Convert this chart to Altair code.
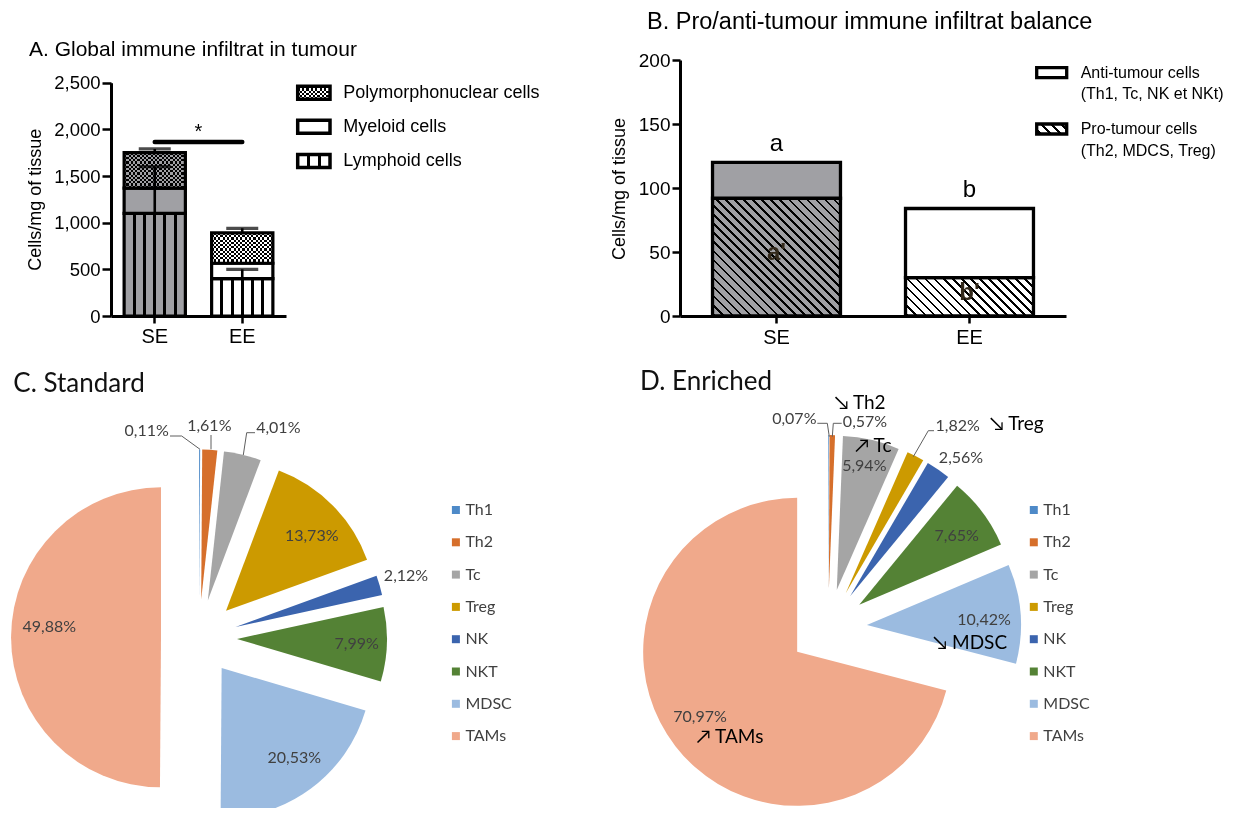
import math
import altair as alt
import pandas as pd

# ------------------------------------------------------------------ data
groups = ["SE", "EE"]

# Panel A - stacked cells/mg of tissue, upper SD of every segment
a_segments = ["Lymphoid cells", "Myeloid cells", "Polymorphonuclear cells"]
a_lymphoid = [1100, 400]
a_myeloid = [270, 165]
a_polymorph = [380, 325]
a_sd_lymphoid = [270, 100]
a_sd_myeloid = [230, 0]
a_sd_polymorph = [40, 50]
a_signif_pair = ["SE", "EE"]
a_signif_level = [1865]
a_signif_mark = ["*"]
a_y_ticks = [0, 500, 1000, 1500, 2000, 2500]
a_legend_items = ["Polymorphonuclear cells", "Myeloid cells", "Lymphoid cells"]

# Panel B - pro / anti tumour cells
b_pro = [92, 30]
b_anti = [28, 54]
b_total_letters = ["a", "b"]
b_pro_letters = ["a'", "b'"]
b_y_ticks = [0, 50, 100, 150, 200]
b_legend_items = ["Anti-tumour cells", "Pro-tumour cells"]
b_legend_details = ["(Th1, Tc, NK et NKt)", "(Th2, MDCS, Treg)"]

# Panels C / D - share of each cell type (%)
cell_types = ["Th1", "Th2", "Tc", "Treg", "NK", "NKT", "MDSC", "TAMs"]
standard_pct = [0.11, 1.61, 4.01, 13.73, 2.12, 7.99, 20.53, 49.88]
enriched_pct = [0.07, 0.57, 5.94, 1.82, 2.56, 7.65, 10.42, 70.97]
enriched_note_cells = ["Th2", "Tc", "Treg", "MDSC", "TAMs"]
enriched_note_arrows = ["\u2198", "\u2197", "\u2198", "\u2198", "\u2197"]

panel_titles = [
    "A. Global immune infiltrat in tumour",
    "B. Pro/anti-tumour immune infiltrat balance",
    "C. Standard",
    "D. Enriched",
]
y_axis_title = "Cells/mg of tissue"

# ------------------------------------------------------------------ style / layout
W, H = 1231, 800
ARIAL = "Liberation Sans"
LATO = "Lato"
GRAY = "#a0a0a4"
CLEAR = "rgba(0,0,0,0)"
PIE_COLORS = ["#4e8ac8", "#d66f2b", "#a5a5a5", "#cc9a00", "#3b64ae", "#548235", "#9bbbe0", "#f0a98b"]
LABEL_GRAY = "#404040"
CHECK = 2.2  # checker cell size, px

A_XR, A_YR = [103, 278], [308, 74.7]
A_PI, A_PO = 0.30, 0.15
B_XR, B_YR = [672, 1058], [308, 52]
B_PI, B_PO = 0.337, 0.1685

PIE_C = dict(cx=191, cy=629.5, r=150, d=38)
PIE_D = dict(cx=820, cy=620, r=154, d=39)

C_LABEL_OFF = {"Th1": (-52.3, -206.5), "Th2": (10.3, -211.8), "Tc": (79.3, -209.2),
               "Treg": (112.7, -101.8), "NK": (207, -61.5), "NKT": (157.7, 6.8),
               "MDSC": (95.3, 120.8), "TAMs": (-149.7, -10.8)}
C_LEADERS = {"Th1": [(-29, -201.5), (-17.3, -201.5), (1, -188.2)],
             "Th2": [(12, -202.5), (12, -188.2)],
             "Tc": [(56, -204.8), (47.7, -204.8), (44.3, -182.5)]}
D_LABEL_OFF = {"Th1": (-33.7, -208.7), "Th2": (37, -205.7), "Tc": (36.3, -162),
               "Treg": (129.7, -202.3), "NK": (133, -169.7), "NKT": (128.7, -92.3),
               "MDSC": (156, -8), "TAMs": (-128, 88.5)}
D_NOTE_OFF = {"Th2": (32, -225.3), "Tc": (45.3, -182), "Treg": (188.7, -204),
              "MDSC": (142, 14.7), "TAMs": (-98, 109)}
D_LEADERS = {"Th1": [(-10.7, -204.7), (-0.7, -204.7), (1.3, -191.3)],
             "Th2": [(13.7, -204.7), (5.3, -204.7), (4.3, -191.3)],
             "Treg": [(106, -197.3), (100.3, -197.3), (85.3, -171.3)]}


def band_geom(rng, pi, po, n=2):
    step = (rng[1] - rng[0]) / (n - pi + 2 * po)
    bw = step * (1 - pi)
    centers = [rng[0] + po * step + i * step + bw / 2 for i in range(n)]
    return step, bw, centers


def stop(c, o):
    return alt.GradientStop(color=c, offset=round(max(0.0, min(1.0, o)), 4))


def vstripes(bg, fg, centers, width):
    s = [stop(bg, 0)]
    for c in centers:
        s += [stop(bg, c - width / 2), stop(fg, c - width / 2),
              stop(fg, c + width / 2), stop(bg, c + width / 2)]
    s.append(stop(bg, 1))
    return alt.LinearGradient(gradient="linear", stops=s, x1=0, y1=0, x2=1, y2=0)


def bands(colors, size_px, cell, along_x):
    n = int(math.ceil(size_px / cell))
    s = []
    for i in range(n):
        c = colors[i % 2]
        s += [stop(c, i * cell / size_px), stop(c, (i + 1) * cell / size_px)]
    if along_x:
        return alt.LinearGradient(gradient="linear", stops=s, x1=0, y1=0, x2=1, y2=0)
    return alt.LinearGradient(gradient="linear", stops=s, x1=0, y1=0, x2=0, y2=1)


def hatch(bg, fg, w, h, period, lw, phase=1.0):
    L = (w + h) / math.sqrt(2)
    c = (w + h) / (w * w + h * h)
    s = [stop(bg, 0)]
    t = phase
    while t < L:
        a, b = t / L, min(1.0, (t + lw) / L)
        s += [stop(bg, a), stop(fg, a), stop(fg, b), stop(bg, b)]
        t += period
    s.append(stop(bg, 1))
    return alt.LinearGradient(gradient="linear", stops=s, x1=0, y1=1,
                              x2=round(c * w, 4), y2=round(1 - c * h, 4))


def checker_marks(base_chart, mark, bg, w_px, h_px, encode, stroke_w):
    """Checkerboard fill: vertical bands + difference-blended horizontal bands + outline."""
    m = getattr(base_chart, mark)
    return [
        m(fill=bands(["black", bg], w_px, CHECK, True), strokeWidth=0).encode(**encode),
        m(fill=bands([bg, CLEAR], h_px, CHECK, False), strokeWidth=0, blend="difference").encode(**encode),
        m(fillOpacity=0, stroke="black", strokeWidth=stroke_w).encode(**encode),
    ]


def text_at(txt, x, y, **kw):
    return alt.Chart(pd.DataFrame({"t": [txt]})).mark_text(**kw).encode(
        x=alt.value(x), y=alt.value(y), text="t:N")


axis_common = dict(labelFont=ARIAL, labelColor="black", domainColor="black",
                   tickColor="black", grid=False, domainWidth=3, tickWidth=2.5)

# ------------------------------------------------------------------ panel A
_, a_bw, a_centers = band_geom(A_XR, A_PI, A_PO)
A_XSCALE = alt.Scale(domain=groups, range=A_XR, paddingInner=A_PI, paddingOuter=A_PO)
A_YSCALE = alt.Scale(domain=[0, 2500], range=A_YR, nice=False, zero=False)
A_XAXIS = alt.Axis(orient="bottom", offset=-(H - A_YR[0]), labelFontSize=20, labelAngle=0,
                   labelPadding=3, tickSize=7, **axis_common)
A_YAXIS = alt.Axis(orient="left", offset=-A_XR[0], values=a_y_ticks, format=",d",
                   labelFontSize=18.5, labelPadding=2, tickSize=9, **axis_common)
a_pxu = (A_YR[0] - A_YR[1]) / 2500.0


def ax(field="group"):
    return alt.X(f"{field}:N", scale=A_XSCALE, axis=A_XAXIS, title=None)


def ay(field):
    return alt.Y(f"{field}:Q", scale=A_YSCALE, axis=A_YAXIS, title=None)


rows = []
for gi, g in enumerate(groups):
    base = 0
    for seg, vals, sds in zip(a_segments, [a_lymphoid, a_myeloid, a_polymorph],
                              [a_sd_lymphoid, a_sd_myeloid, a_sd_polymorph]):
        top = base + vals[gi]
        rows.append(dict(group=g, segment=seg, y0=base, y1=top, err=top + sds[gi]))
        base = top
dfA = pd.DataFrame(rows)

lymph_centers = [k / 6 for k in range(1, 6)]
A_FILL = {
    ("SE", "Lymphoid cells"): vstripes(GRAY, "black", lymph_centers, 3.0 / a_bw),
    ("EE", "Lymphoid cells"): vstripes("white", "black", lymph_centers, 3.0 / a_bw),
    ("SE", "Myeloid cells"): GRAY,
    ("EE", "Myeloid cells"): "white",
}
a_layers = []
for (g, seg), fill in A_FILL.items():
    a_layers.append(
        alt.Chart(dfA).transform_filter(f"datum.group == '{g}' && datum.segment == '{seg}'")
        .mark_bar(fill=fill, stroke="black", strokeWidth=3.2)
        .encode(x=ax(), y=ay("y0"), y2="y1")
    )
for gi, (g, bg) in enumerate(zip(groups, [GRAY, "white"])):
    poly = alt.Chart(dfA).transform_filter(
        f"datum.group == '{g}' && datum.segment == 'Polymorphonuclear cells'")
    a_layers += checker_marks(poly, "mark_bar", bg, a_bw, a_polymorph[gi] * a_pxu,
                              dict(x=ax(), y=ay("y0"), y2="y1"), 3.2)
a_layers.append(
    alt.Chart(dfA).transform_filter("datum.err > datum.y1")
    .mark_rule(color="black", strokeWidth=2.6)
    .encode(x=ax(), y=ay("y1"), y2="err")
)
a_layers.append(
    alt.Chart(dfA).transform_filter("datum.err > datum.y1")
    .mark_tick(color="black", size=32, thickness=3.2, orient="horizontal")
    .encode(x=ax(), y=ay("err"))
)
dfSig = pd.DataFrame({"g1": [a_signif_pair[0]], "g2": [a_signif_pair[1]],
                      "lev": a_signif_level, "mark": a_signif_mark})
a_layers.append(
    alt.Chart(dfSig).mark_rule(color="black", strokeWidth=4.5, strokeCap="round")
    .encode(x=ax("g1"), x2="g2:N", y=ay("lev"))
)
a_layers.append(
    alt.Chart(dfSig).mark_text(font=ARIAL, fontSize=20, baseline="alphabetic", dy=-4)
    .encode(x=alt.value(sum(a_centers) / 2), y=ay("lev"), text="mark:N")
)
layerA = alt.layer(*a_layers)

# legend A
legA = pd.DataFrame({"item": a_legend_items})
legA["yc"] = [84.7 + i * 34.15 for i in range(len(legA))]
legA["y0"] = legA["yc"] - 6.5
legA["y1"] = legA["yc"] + 6.5
sw_enc = dict(x=alt.value(289.7), x2=alt.value(322), y=alt.Y("y0:Q", scale=None), y2="y1")
legA_layers = []
legA_layers += checker_marks(
    alt.Chart(legA).transform_filter(f"datum.item == '{a_legend_items[0]}'"),
    "mark_rect", "white", 32.3, 13, sw_enc, 3.5)
for item, fill in zip(a_legend_items[1:], ["white", vstripes("white", "black", [1 / 3, 2 / 3], 0.1)]):
    legA_layers.append(
        alt.Chart(legA).transform_filter(f"datum.item == '{item}'")
        .mark_rect(fill=fill, stroke="black", strokeWidth=3.5)
        .encode(**sw_enc)
    )
legA_layers.append(
    alt.Chart(legA).mark_text(font=ARIAL, fontSize=18, align="left", baseline="middle", color="black")
    .encode(x=alt.value(335.3), y=alt.Y("yc:Q", scale=None), text="item:N")
)
legendA = alt.layer(*legA_layers)

# ------------------------------------------------------------------ panel B
_, b_bw, b_centers = band_geom(B_XR, B_PI, B_PO)
B_XSCALE = alt.Scale(domain=groups, range=B_XR, paddingInner=B_PI, paddingOuter=B_PO)
B_YSCALE = alt.Scale(domain=[0, 200], range=B_YR, nice=False, zero=False)
B_XAXIS = alt.Axis(orient="bottom", offset=-(H - B_YR[0]), labelFontSize=20, labelAngle=0,
                   labelPadding=4, tickSize=7, **axis_common)
B_YAXIS = alt.Axis(orient="left", offset=-B_XR[0], values=b_y_ticks, format="d",
                   labelFontSize=19, labelPadding=2, tickSize=8, **axis_common)


def bx(field="group"):
    return alt.X(f"{field}:N", scale=B_XSCALE, axis=B_XAXIS, title=None)


def by(field):
    return alt.Y(f"{field}:Q", scale=B_YSCALE, axis=B_YAXIS, title=None)


b_pxu = (B_YR[0] - B_YR[1]) / 200.0
rows = []
for gi, g in enumerate(groups):
    rows.append(dict(group=g, kind="pro", y0=0, y1=b_pro[gi]))
    rows.append(dict(group=g, kind="anti", y0=b_pro[gi], y1=b_pro[gi] + b_anti[gi]))
dfB = pd.DataFrame(rows)
B_FILL = {
    ("SE", "pro"): hatch(GRAY, "black", b_bw, b_pro[0] * b_pxu, 6.4, 1.9),
    ("EE", "pro"): hatch("white", "black", b_bw, b_pro[1] * b_pxu, 6.4, 1.9),
    ("SE", "anti"): GRAY,
    ("EE", "anti"): "white",
}
b_layers = []
for (g, kind), fill in B_FILL.items():
    b_layers.append(
        alt.Chart(dfB).transform_filter(f"datum.group == '{g}' && datum.kind == '{kind}'")
        .mark_bar(fill=fill, stroke="black", strokeWidth=3.3)
        .encode(x=bx(), y=by("y0"), y2="y1")
    )
dfBl = pd.DataFrame({"group": groups, "total": [p + a for p, a in zip(b_pro, b_anti)],
                     "half": [p / 2 for p in b_pro], "top": b_total_letters,
                     "inner": b_pro_letters})
b_layers.append(
    alt.Chart(dfBl).mark_text(font=ARIAL, fontSize=24, baseline="alphabetic", dy=-11, color="black")
    .encode(x=bx(), y=by("total"), text="top:N")
)
b_layers.append(
    alt.Chart(dfBl).mark_text(font=ARIAL, fontSize=24, fontWeight="bold", baseline="middle", dy=-4,
                              color="#33291b")
    .encode(x=bx(), y=by("half"), text="inner:N")
)
layerB = alt.layer(*b_layers)

# legend B
legB = pd.DataFrame({"item": b_legend_items, "detail": b_legend_details})
legB["yc"] = [64.7 + i * 56.3 for i in range(len(legB))]
legB["y0"] = legB["yc"] - 5
legB["y1"] = legB["yc"] + 5
legB_fills = ["white", hatch("white", "black", 30, 10, 7.0, 2.0, 2.0)]
legB_layers = []
for item, fill in zip(b_legend_items, legB_fills):
    legB_layers.append(
        alt.Chart(legB).transform_filter(f"datum.item == '{item}'")
        .mark_rect(fill=fill, stroke="black", strokeWidth=3.3)
        .encode(x=alt.value(1028.7), x2=alt.value(1058.7),
                y=alt.Y("y0:Q", scale=None), y2="y1")
    )
legB_layers.append(
    alt.Chart(legB).mark_text(font=ARIAL, fontSize=16, align="left", baseline="middle", color="black")
    .encode(x=alt.value(1072.7), y=alt.Y("yc:Q", scale=None), text="item:N")
)
legB_layers.append(
    alt.Chart(legB).mark_text(font=ARIAL, fontSize=16, align="left", baseline="middle", color="black", dy=21.7)
    .encode(x=alt.value(1072.7), y=alt.Y("yc:Q", scale=None), text="detail:N")
)
legendB = alt.layer(*legB_layers)

# ------------------------------------------------------------------ pies


def pie(values, geo, label_off, leaders, legend_x):
    cx, cy, r, d = geo["cx"], geo["cy"], geo["r"], geo["d"]
    df = pd.DataFrame({"cell": cell_types, "pct": values, "order": list(range(len(values)))})
    base = (
        alt.Chart(df)
        .transform_window(cum="sum(pct)", sort=[alt.SortField("order")], frame=[None, 0])
        .transform_joinaggregate(total="sum(pct)")
        .transform_calculate(t0="(datum.cum - datum.pct) / datum.total * 2 * PI")
        .transform_calculate(t1="datum.cum / datum.total * 2 * PI")
        .transform_calculate(tm="(datum.t0 + datum.t1) / 2")
        .transform_calculate(px=f"{cx} + {d} * sin(datum.tm)")
        .transform_calculate(py=f"{cy} - {d} * cos(datum.tm)")
    )
    arcs = base.mark_arc(radius=r).encode(
        theta=alt.Theta("t0:Q", scale=None, stack=None),
        theta2="t1:Q",
        x=alt.X("px:Q", scale=None),
        y=alt.Y("py:Q", scale=None),
        color=alt.Color("cell:N", scale=alt.Scale(domain=cell_types, range=PIE_COLORS), legend=None),
    )
    lab = df.copy()
    lab["lx"] = [cx + label_off[c][0] for c in cell_types]
    lab["ly"] = [cy + label_off[c][1] for c in cell_types]
    labels = (
        alt.Chart(lab)
        .transform_calculate(txt="replace(format(datum.pct, '.2f'), '.', ',') + '%'")
        .mark_text(font=LATO, fontSize=16, color=LABEL_GRAY, align="center", baseline="middle")
        .encode(x=alt.X("lx:Q", scale=None), y=alt.Y("ly:Q", scale=None), text="txt:N")
    )
    pts = []
    for c, seq in leaders.items():
        for k, (dx, dy) in enumerate(seq):
            pts.append(dict(cell=c, k=k, x=cx + dx, y=cy + dy))
    lead = alt.Chart(pd.DataFrame(pts)).mark_line(color="#5f5f5f", strokeWidth=1).encode(
        x=alt.X("x:Q", scale=None), y=alt.Y("y:Q", scale=None),
        detail="cell:N", order="k:Q")
    leg = df.copy()
    leg["yc"] = [502 + i * 32.3 for i in range(len(leg))]
    sq = alt.Chart(leg).mark_square(size=64, opacity=1).encode(
        x=alt.value(legend_x), y=alt.Y("yc:Q", scale=None),
        color=alt.Color("cell:N", scale=alt.Scale(domain=cell_types, range=PIE_COLORS), legend=None))
    lt = alt.Chart(leg).mark_text(font=LATO, fontSize=16, color=LABEL_GRAY, align="left", baseline="middle").encode(
        x=alt.value(legend_x + 9.5), y=alt.Y("yc:Q", scale=None), text="cell:N")
    return [arcs, labels, lead, alt.layer(sq, lt)]


pieC = pie(standard_pct, PIE_C, C_LABEL_OFF, C_LEADERS, 447.9)
pieD = pie(enriched_pct, PIE_D, D_LABEL_OFF, D_LEADERS, 1025.8)

notes = pd.DataFrame({"cell": enriched_note_cells, "arrow": enriched_note_arrows})
notes["nx"] = [PIE_D["cx"] + D_NOTE_OFF[c][0] for c in enriched_note_cells]
notes["ny"] = [PIE_D["cy"] + D_NOTE_OFF[c][1] for c in enriched_note_cells]
notesD = (
    alt.Chart(notes)
    .transform_calculate(txt="datum.arrow + ' ' + datum.cell")
    .mark_text(font=LATO, fontSize=19, color="black", align="center", baseline="middle")
    .encode(x=alt.X("nx:Q", scale=None), y=alt.Y("ny:Q", scale=None), text="txt:N")
)

# ------------------------------------------------------------------ titles
titleA = text_at(panel_titles[0], 21, 48, font=ARIAL, fontSize=21, align="left", baseline="alphabetic", color="black")
titleB = text_at(panel_titles[1], 639, 21, font=ARIAL, fontSize=23.5, align="left", baseline="alphabetic", color="black")
titleC = text_at(panel_titles[2], 5.3, 383.7, font=LATO, fontSize=26, align="left", baseline="alphabetic", color="#111111")
titleD = text_at(panel_titles[3], 632, 382, font=LATO, fontSize=26, align="left", baseline="alphabetic", color="#111111")
ytitleA = text_at(y_axis_title, 27.8, 191.7, font=ARIAL, fontSize=18, angle=270, align="center", baseline="middle", color="black")
ytitleB = text_at(y_axis_title, 612, 181, font=ARIAL, fontSize=18, angle=270, align="center", baseline="middle", color="black")

chart = (
    alt.layer(
        layerA, layerB, legendA, legendB,
        titleA, titleB, titleC, titleD, ytitleA, ytitleB,
        *pieC, *pieD, notesD,
    )
    .resolve_scale(x="independent", y="independent", color="independent")
    .properties(width=W, height=H, autosize=alt.AutoSizeParams(type="none"), padding=0,
                background="white")
    .configure_view(stroke=None)
)

chart.save("out.html", embed_options={"renderer": "svg", "actions": False})
